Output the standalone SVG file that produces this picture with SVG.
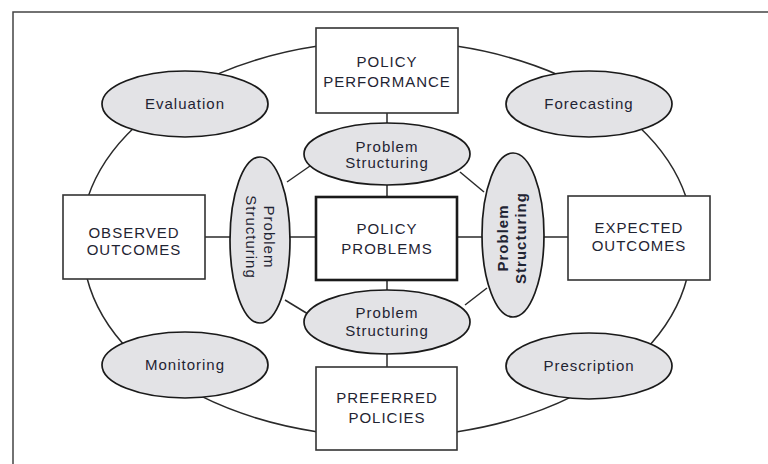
<svg xmlns="http://www.w3.org/2000/svg" width="768" height="464" viewBox="0 0 768 464">
<style>
  .box { fill: #ffffff; stroke: #333333; stroke-width: 1.6; }
  .box-strong { fill: #ffffff; stroke: #1a1a1a; stroke-width: 2.6; }
  .oval { fill: #e3e3e6; stroke: #1a1a1a; stroke-width: 1.7; }
  .conn { fill: none; stroke: #2a2a2a; stroke-width: 1.5; }
  .lbl { font-family: "Liberation Sans", Arial, sans-serif; font-size: 15px; letter-spacing: 1px; fill: #1f2433; text-anchor: middle; }
  .frame { fill: none; stroke: #444444; stroke-width: 1.5; }
</style>
<rect x="0" y="0" width="768" height="464" fill="#ffffff"/>
<path class="frame" d="M13,464 L13,12 L768,12"/>

<g id="connectors">
  <!-- outer ring arcs -->
  <path class="conn" d="M318,46.1 A306,198 0 0 0 218,73.9"/>
  <path class="conn" d="M135,126.7 A306,198 0 0 0 88,197"/>
  <path class="conn" d="M87,278 A306,198 0 0 0 130,351.3"/>
  <path class="conn" d="M200,395.7 A306,198 0 0 0 318,431.9"/>
  <path class="conn" d="M456,46.1 A306,198 0 0 1 560,75.7"/>
  <path class="conn" d="M639,126.7 A306,198 0 0 1 686,197"/>
  <path class="conn" d="M687,278 A306,198 0 0 1 644,351.3"/>
  <path class="conn" d="M574,395.7 A306,198 0 0 1 456,431.9"/>
  <!-- vertical spokes -->
  <line class="conn" x1="387" y1="113" x2="387" y2="124"/>
  <line class="conn" x1="387" y1="184" x2="387" y2="197"/>
  <line class="conn" x1="387" y1="280" x2="387" y2="291"/>
  <line class="conn" x1="387" y1="353" x2="387" y2="367"/>
  <!-- horizontal spokes -->
  <line class="conn" x1="205" y1="237" x2="231" y2="237"/>
  <line class="conn" x1="289" y1="237" x2="316" y2="237"/>
  <line class="conn" x1="457" y1="237" x2="483" y2="237"/>
  <line class="conn" x1="543" y1="237" x2="568" y2="237"/>
  <!-- inner ring diagonals -->
  <line class="conn" x1="287" y1="182" x2="310" y2="166"/>
  <line class="conn" x1="460" y1="172" x2="484" y2="192"/>
  <line class="conn" x1="285" y1="300" x2="308" y2="314"/>
  <line class="conn" x1="465" y1="305" x2="487" y2="288"/>
</g>

<g id="policy-performance">
  <rect class="box" x="316" y="28" width="142" height="85"/>
  <text class="lbl" x="387" y="67">POLICY</text>
  <text class="lbl" x="387" y="87">PERFORMANCE</text>
</g>
<g id="observed-outcomes">
  <rect class="box" x="63" y="195" width="142" height="84"/>
  <text class="lbl" x="134" y="238">OBSERVED</text>
  <text class="lbl" x="134" y="255">OUTCOMES</text>
</g>
<g id="policy-problems">
  <rect class="box-strong" x="316" y="197" width="141" height="83"/>
  <text class="lbl" x="387" y="234">POLICY</text>
  <text class="lbl" x="387" y="254">PROBLEMS</text>
</g>
<g id="expected-outcomes">
  <rect class="box" x="568" y="196" width="142" height="84"/>
  <text class="lbl" x="639" y="233">EXPECTED</text>
  <text class="lbl" x="639" y="251">OUTCOMES</text>
</g>
<g id="preferred-policies">
  <rect class="box" x="316" y="367" width="141" height="83"/>
  <text class="lbl" x="387" y="403">PREFERRED</text>
  <text class="lbl" x="387" y="423">POLICIES</text>
</g>

<g id="evaluation">
  <ellipse class="oval" cx="185" cy="104" rx="83" ry="33"/>
  <text class="lbl" x="185" y="109">Evaluation</text>
</g>
<g id="forecasting">
  <ellipse class="oval" cx="589" cy="104" rx="83" ry="33"/>
  <text class="lbl" x="589" y="109">Forecasting</text>
</g>
<g id="monitoring">
  <ellipse class="oval" cx="185" cy="365" rx="83" ry="33"/>
  <text class="lbl" x="185" y="370">Monitoring</text>
</g>
<g id="prescription">
  <ellipse class="oval" cx="589" cy="366" rx="83" ry="33"/>
  <text class="lbl" x="589" y="371">Prescription</text>
</g>

<g id="ps-top">
  <ellipse class="oval" cx="387" cy="154" rx="83" ry="31"/>
  <text class="lbl" x="387" y="152">Problem</text>
  <text class="lbl" x="387" y="168">Structuring</text>
</g>
<g id="ps-bottom">
  <ellipse class="oval" cx="387" cy="322" rx="83" ry="32"/>
  <text class="lbl" x="387" y="318">Problem</text>
  <text class="lbl" x="387" y="336">Structuring</text>
</g>
<g id="ps-left">
  <ellipse class="oval" cx="260" cy="240" rx="30" ry="83"/>
  <g transform="translate(260,237) rotate(90)">
    <text class="lbl" x="0" y="-4">Problem</text>
    <text class="lbl" x="0" y="14">Structuring</text>
  </g>
</g>
<g id="ps-right">
  <ellipse class="oval" cx="513" cy="235" rx="31" ry="82"/>
  <g transform="translate(512,238) rotate(-90)">
    <text class="lbl" x="0" y="-4" font-weight="bold">Problem</text>
    <text class="lbl" x="0" y="14" font-weight="bold">Structuring</text>
  </g>
</g>
</svg>
